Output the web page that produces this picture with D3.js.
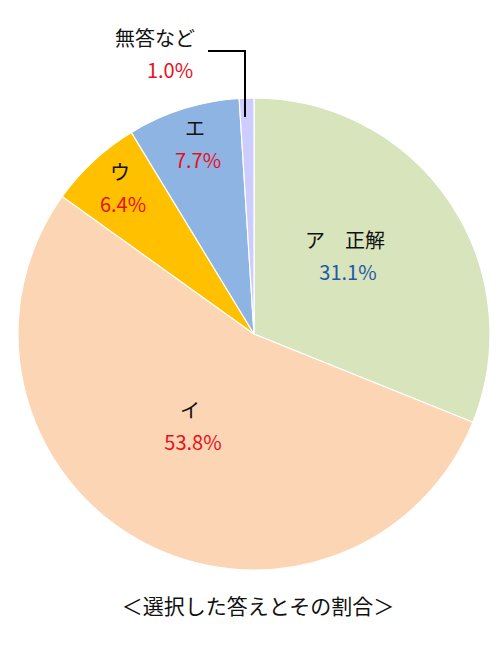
<!DOCTYPE html><html><head><meta charset="utf-8"><script src="https://d3js.org/d3.v7.min.js"></script>
<style>body{margin:0;background:#fff}text{font-family:"Noto Sans CJK JP","Noto Sans",sans-serif}</style></head><body><svg width="500" height="660"></svg>
<script>
const categories=["ア　正解","イ","ウ","エ","無答など"];
const values=[31.1,53.8,6.4,7.7,1.0];
const colors=["#d8e4bc","#fcd5b4","#ffc000","#8db4e2","#ccccff"];
const pctColors=["#1f5aa8","#e8101e","#e8101e","#e8101e","#e8101e"];
const labelPos=[[345,240],[190,410],[120,172],[195,128],[155,38]];
const svg=d3.select("svg");
const cx=254,cy=334,r=236;
const arcs=d3.pie().sort(null).value(d=>d)(values);
const arc=d3.arc().innerRadius(0).outerRadius(r);
const g=svg.append("g").attr("transform",`translate(${cx},${cy})`);
g.selectAll("path").data(arcs).join("path").attr("d",arc).attr("fill",(d,i)=>colors[i]).attr("stroke","#fff").attr("stroke-width",1.2);
svg.append("path").attr("d","M208,51H245V117").attr("fill","none").attr("stroke","#000").attr("stroke-width",2);
categories.forEach((c,i)=>{
 const [x,y]=labelPos[i];
 svg.append("text").attr("x",x).attr("y",y+8).attr("text-anchor","middle").attr("font-size",20).attr("fill","#111").text(c);
 svg.append("text").attr("x",i==4?x+15:x+3).attr("y",y+40).attr("text-anchor","middle").attr("font-size",20).attr("fill",pctColors[i]).text(values[i].toFixed(1)+"%");
});
svg.append("text").attr("x",258).attr("y",614).attr("text-anchor","middle").attr("font-size",21).attr("fill","#111").text("＜選択した答えとその割合＞");
</script></body></html>
